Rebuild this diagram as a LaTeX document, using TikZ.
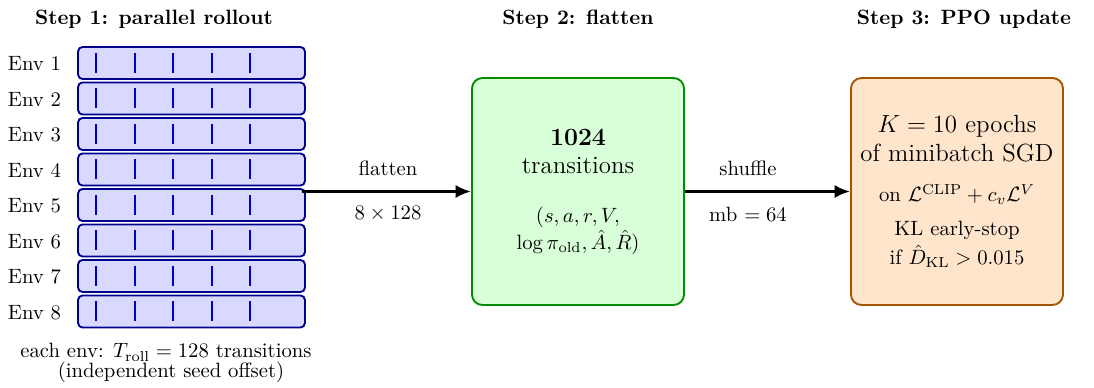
\documentclass[tikz,border=0pt]{standalone}
\usetikzlibrary{arrows.meta}
\begin{document}
\begin{tikzpicture}[x=0.483pt,y=-0.483pt,
  envbar/.style={draw=blue!55!black, fill=blue!15, line width=0.9pt,
    rounded corners=2.2pt, minimum width=109.6pt, minimum height=15.5pt, inner sep=0pt},
  envtick/.style={draw=blue!80!black, line width=1.1pt},
  envlabel/.style={anchor=base west, inner sep=0pt},
  stagebox/.style={rounded corners=5pt, line width=0.9pt,
    minimum width=102.4pt, minimum height=109.6pt, inner sep=0pt},
  rolloutbox/.style={stagebox, draw=green!55!black, fill=green!15},
  updatebox/.style={stagebox, draw=orange!65!black, fill=orange!20},
  steptitle/.style={anchor=base, inner sep=0pt, font=\bfseries},
  txt/.style={anchor=base, inner sep=0pt},
  bigtxt/.style={txt, font=\large},
  flow/.style={-{Latex[length=7.5pt,width=6.5pt]}, line width=1.6pt},
]
\useasboundingbox (0,0) rectangle (1094,388);

% column titles
\node[steptitle] (t1) at (154,25) {Step 1: parallel rollout};
\node[steptitle] (t2) at (578,25) {Step 2: flatten};
\node[steptitle] (t3) at (964,25) {Step 3: PPO update};

% one rollout bar per environment, with tick marks for the time steps
\foreach \i in {1,...,8} {
  \pgfmathsetmacro{\yc}{63+(\i-1)*35.5}
  \node[envbar] (bar\i) at (191.5,\yc) {};
  \node[envlabel] (lab\i) at (7.5,\yc+7.7) {Env \i};
  \foreach \tx in {96.3,135,173.3,212,250.3}
    \draw[envtick] (\tx,\yc-10) -- (\tx,\yc+10);
}

\node[txt] (cap1) at (166,358) {each env: $T_{\mathrm{roll}} = 128$ transitions};
\node[txt] (cap2) at (171,378) {(independent seed offset)};

% flattened buffer
\node[rolloutbox] (flat) at (578,191.5) {};
\node[bigtxt, font=\large\bfseries] (n1024) at (578,146) {1024};
\node[bigtxt] (ntrans) at (578,174) {transitions};
\node[txt] (tup1) at (578,222.7) {$(s, a, r, V,$};
\node[txt] (tup2) at (578,249.3) {$\log\pi_{\mathrm{old}}, \hat{A}, \hat{R})$};

% PPO update
\node[updatebox] (ppo) at (957,191.5) {};
\node[bigtxt] (u1) at (957,132.7) {$K = 10$ epochs};
\node[bigtxt] (u2) at (957,161.7) {of minibatch SGD};
\node[txt] (u3) at (957,201.7) {on $\mathcal{L}^{\mathrm{CLIP}} + c_v\mathcal{L}^{V}$};
\node[txt] (u4) at (957,236) {KL early-stop};
\node[txt] (u5) at (957,264.3) {if $\hat{D}_{\mathrm{KL}} > 0.015$};

% connectors
\coordinate (stackout) at (302,191.5);
\draw[flow] (stackout) -- (flat.west);
\node[txt] (fl1) at (388,176) {flatten};
\node[txt] (fl2) at (388,220) {$8\times128$};

\draw[flow] (flat.east) -- (ppo.west);
\node[txt] (sh1) at (748,176) {shuffle};
\node[txt] (sh2) at (748,221.7) {mb $= 64$};
\end{tikzpicture}
\end{document}
